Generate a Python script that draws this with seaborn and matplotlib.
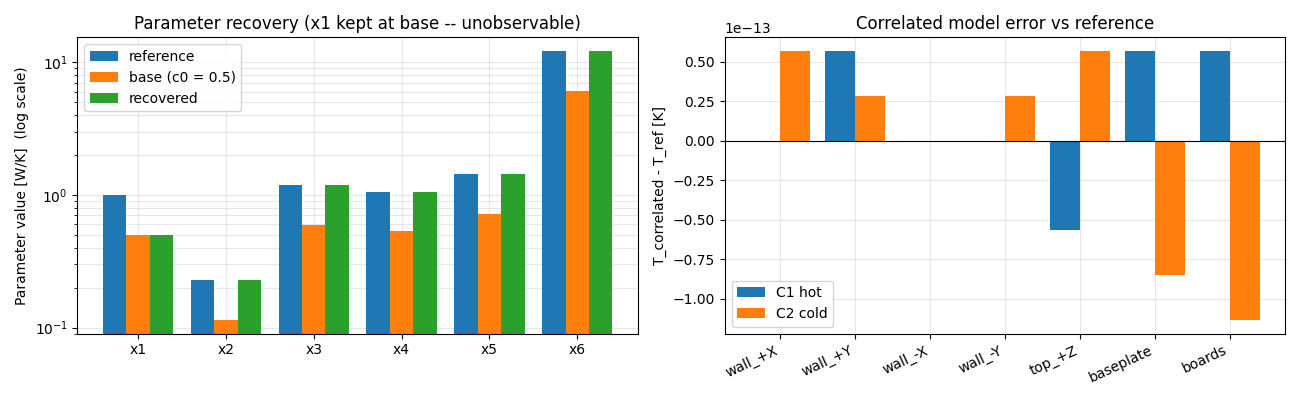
import numpy as np
import pandas as pd
import seaborn as sns
import matplotlib
matplotlib.use('Agg')
import matplotlib.pyplot as plt

# parameter recovery data
params = ['x1', 'x2', 'x3', 'x4', 'x5', 'x6']
reference = [1.0, 0.23, 1.195, 1.06, 1.445, 12.1]
base = [0.5, 0.115, 0.5975, 0.53, 0.7225, 6.05]
recovered = [0.5, 0.23, 1.195, 1.06, 1.445, 12.1]

# correlated model error data
nodes = ['wall_+X', 'wall_+Y', 'wall_-X', 'wall_-Y', 'top_+Z', 'baseplate', 'boards']
c1_hot = [0.0, 5.684e-14, 0.0, 0.0, -5.684e-14, 5.684e-14, 5.684e-14]
c2_cold = [5.684e-14, 2.842e-14, 0.0, 2.842e-14, 5.684e-14, -8.527e-14, -1.137e-13]

df1 = pd.DataFrame({
    'param': params * 3,
    'value': reference + base + recovered,
    'series': ['reference'] * 6 + ['base (c0 = 0.5)'] * 6 + ['recovered'] * 6,
})
df2 = pd.DataFrame({
    'node': nodes * 2,
    'err': c1_hot + c2_cold,
    'case': ['C1 hot'] * 7 + ['C2 cold'] * 7,
})

tab = sns.color_palette('tab10')

fig, (ax1, ax2) = plt.subplots(1, 2, figsize=(13, 4))

sns.barplot(data=df1, x='param', y='value', hue='series', ax=ax1,
            palette=tab[:3], saturation=1, width=0.8)
ax1.set_yscale('log')
ax1.set_ylim(0.09, 15.4)
ax1.set_xlim(-0.69, 5.69)
ax1.set_title('Parameter recovery (x1 kept at base -- unobservable)')
ax1.set_xlabel('')
ax1.set_ylabel('Parameter value [W/K]  (log scale)')
ax1.grid(True, which='both', alpha=0.3)
ax1.set_axisbelow(True)
ax1.legend(loc='upper left')

sns.barplot(data=df2, x='node', y='err', hue='case', ax=ax2,
            palette=tab[:2], saturation=1, width=0.8)
ax2.axhline(0, color='black', lw=0.8)
ax2.set_xlim(-0.74, 6.74)
ax2.set_title('Correlated model error vs reference')
ax2.set_xlabel('')
ax2.set_ylabel('T_correlated - T_ref [K]')
ax2.grid(True, alpha=0.3)
ax2.set_axisbelow(True)
ax2.legend(loc='lower left')
plt.setp(ax2.get_xticklabels(), rotation=25, ha='right')

plt.tight_layout()
plt.savefig('out.png', dpi=100)
